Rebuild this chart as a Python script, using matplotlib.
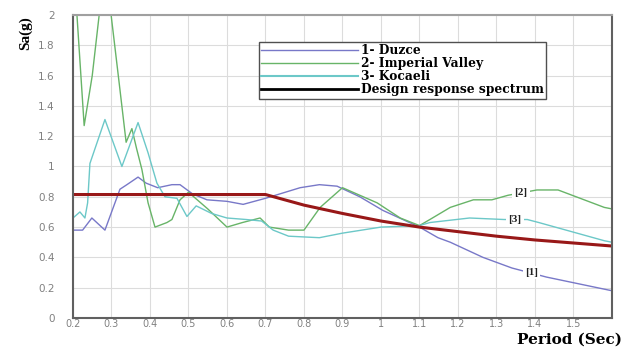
import numpy as np
import matplotlib
matplotlib.use('Agg')
from matplotlib import pyplot as plt
from matplotlib.lines import Line2D

# Duzce (1)
t_duzce = [0.2, 0.225, 0.249, 0.283, 0.322, 0.34, 0.369, 0.39, 0.42, 0.457, 0.478, 0.51,
           0.548, 0.6, 0.642, 0.70, 0.79, 0.84, 0.886, 0.945, 1.005, 1.1, 1.148, 1.18,
           1.265, 1.34, 1.43, 1.59, 1.6]
sa_duzce = [0.58, 0.58, 0.66, 0.58, 0.85, 0.88, 0.93, 0.89, 0.86, 0.88, 0.88, 0.82,
            0.78, 0.77, 0.75, 0.79, 0.86, 0.88, 0.87, 0.80, 0.71, 0.60, 0.53, 0.50,
            0.40, 0.33, 0.27, 0.185, 0.18]

# Imperial Valley (2)
t_imperial = [0.2, 0.229, 0.25, 0.268, 0.283, 0.299, 0.32, 0.338, 0.353, 0.365, 0.379,
              0.395, 0.413, 0.444, 0.457, 0.478, 0.50, 0.55, 0.60, 0.64, 0.686, 0.71,
              0.76, 0.80, 0.842, 0.90, 0.99, 1.05, 1.1, 1.127, 1.18, 1.24, 1.288, 1.33,
              1.405, 1.46, 1.58, 1.6]
sa_imperial = [2.4, 1.27, 1.6, 2.0, 2.2, 2.0, 1.55, 1.16, 1.25, 1.12, 0.98,
               0.76, 0.60, 0.63, 0.65, 0.78, 0.83, 0.72, 0.60, 0.63, 0.66, 0.60,
               0.58, 0.58, 0.73, 0.86, 0.76, 0.66, 0.61, 0.65, 0.73, 0.78, 0.78, 0.81,
               0.845, 0.845, 0.73, 0.72]

# Kocaeli (3)
t_kocaeli = [0.2, 0.218, 0.231, 0.238, 0.244, 0.283, 0.327, 0.369, 0.395, 0.418, 0.439,
             0.47, 0.496, 0.52, 0.56, 0.60, 0.65, 0.69, 0.72, 0.76, 0.84, 0.9, 0.95,
             1.0, 1.1, 1.127, 1.23, 1.32, 1.38, 1.41, 1.58, 1.6]
sa_kocaeli = [0.66, 0.70, 0.66, 0.76, 1.02, 1.31, 1.00, 1.29, 1.09, 0.89, 0.80,
              0.79, 0.67, 0.74, 0.69, 0.66, 0.65, 0.64, 0.58, 0.54, 0.53, 0.56, 0.58,
              0.60, 0.61, 0.63, 0.66, 0.65, 0.65, 0.63, 0.51, 0.50]

# Design response spectrum
t_design = [0.2, 0.7, 0.8, 0.9, 1.0, 1.1, 1.2, 1.3, 1.4, 1.5, 1.6]
sa_design = [0.815, 0.815, 0.745, 0.69, 0.64, 0.60, 0.57, 0.54, 0.515, 0.495, 0.475]

legend_labels = ['1- Duzce', '2- Imperial Valley', '3- Kocaeli', 'Design response spectrum']
curve_tags = ['[1]', '[2]', '[3]']

c_duzce = '#7878c8'
c_imperial = '#68b468'
c_kocaeli = '#6cc8c8'
c_design = '#981818'

fig = plt.figure(figsize=(6.26, 3.47), dpi=100)
ax = fig.add_axes([0.1166, 0.0836, 0.861, 0.8732])

ax.plot(t_duzce, sa_duzce, color=c_duzce, lw=1.0)
ax.plot(t_imperial, sa_imperial, color=c_imperial, lw=1.0)
ax.plot(t_kocaeli, sa_kocaeli, color=c_kocaeli, lw=1.0)
ax.plot(t_design, sa_design, color=c_design, lw=2.2)

ax.set_xlim(0.2, 1.6)
ax.set_ylim(0, 2)
ax.set_xticks(np.arange(0.2, 1.61, 0.1))
ax.set_xticklabels(['0.2', '0.3', '0.4', '0.5', '0.6', '0.7', '0.8', '0.9', '1',
                    '1.1', '1.2', '1.3', '1.4', '1.5', ''])
ax.set_yticks(np.arange(0, 2.01, 0.2))
ax.set_yticklabels(['0', '0.2', '0.4', '0.6', '0.8', '1', '1.2', '1.4', '1.6', '1.8', '2'])
ax.grid(True, color='#dcdcdc', lw=0.8)
ax.set_axisbelow(True)
ax.tick_params(length=0, labelsize=7.5, labelcolor='#808080')
ax.tick_params(axis='x', pad=0.5, labelsize=7)
ax.tick_params(axis='y', pad=13)
for s in ['left', 'bottom', 'right']:
    ax.spines[s].set_color('#606060')
    ax.spines[s].set_linewidth(1.5)
ax.spines['top'].set_color('#a0a0a0')
ax.spines['top'].set_linewidth(1.5)

serif = ['Liberation Serif', 'DejaVu Serif']
wide_serif = ['DejaVu Serif']

handles = [Line2D([], [], color=c_duzce, lw=1.0),
           Line2D([], [], color=c_imperial, lw=1.0),
           Line2D([], [], color=c_kocaeli, lw=1.5),
           Line2D([], [], color='black', lw=2.0)]
leg = ax.legend(handles, legend_labels, loc='upper left', bbox_to_anchor=(0.345, 0.912),
                handlelength=7.9, handletextpad=0.25, labelspacing=0.0, borderpad=0.2,
                borderaxespad=0, fancybox=False, framealpha=1, edgecolor='#505050',
                prop={'family': wide_serif, 'weight': 'bold', 'size': 8.8})
leg.get_frame().set_linewidth(1.0)

tag_pos = [(1.39, 0.30), (1.364, 0.83), (1.348, 0.647)]
for tag, (tx, ty) in zip(curve_tags, tag_pos):
    ax.text(tx, ty, tag, ha='center', va='center', fontsize=8, fontweight='bold',
            family=serif, color='#202020',
            bbox=dict(facecolor='white', edgecolor='none', pad=1.5))

fig.text(25 / 626, 1 - 33 / 347, 'Sa(g)', rotation=90, ha='center', va='center',
         fontsize=11, fontweight='bold', family=serif)
fig.text(622 / 626, 0.5 / 347, 'Period (Sec)', ha='right', va='bottom',
         fontsize=11, fontweight='bold', family=wide_serif)

plt.savefig('out.png', dpi=100)
